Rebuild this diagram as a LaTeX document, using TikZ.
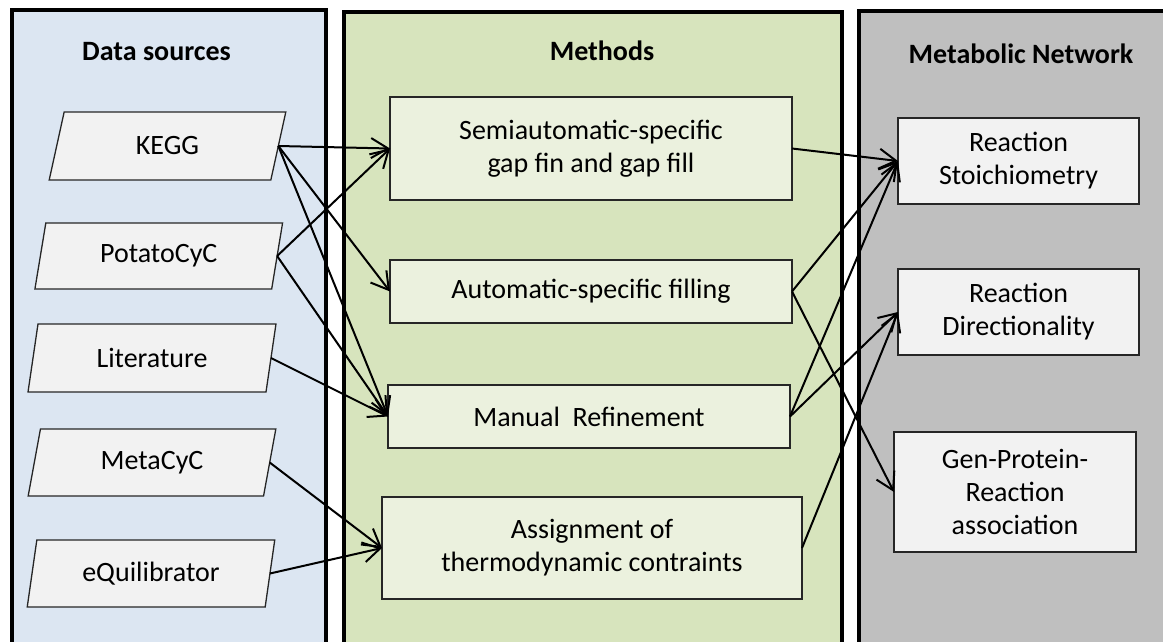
\documentclass[tikz,border=0pt]{standalone}
\usepackage{fontspec}
\setmainfont{Carlito}
\usetikzlibrary{shapes.geometric,arrows.meta}
\definecolor{datafill}{HTML}{DCE6F2}
\definecolor{methfill}{HTML}{D7E4BD}
\definecolor{netfill}{HTML}{BFBFBF}
\definecolor{methboxfill}{HTML}{EBF1DE}
\definecolor{grayboxfill}{HTML}{F2F2F2}
\newcommand{\mybodyfont}{\fontsize{28}{33}\selectfont}
\newcommand{\mytitlefont}{\fontsize{28}{33}\selectfont\bfseries}
\begin{document}
\begin{tikzpicture}[x=1pt,y=-1pt,
  panel/.style={draw=black, line width=4pt},
  srcbox/.style={trapezium, trapezium left angle=76, trapezium right angle=104,
    trapezium stretches=true, draw=black!85, line width=1.3pt, fill=grayboxfill,
    inner sep=0pt, outer sep=0pt, font=\mybodyfont},
  methbox/.style={rectangle, draw=black!85, line width=1.3pt, fill=methboxfill,
    inner sep=0pt, outer sep=0pt, align=center, font=\mybodyfont},
  netbox/.style={rectangle, draw=black!85, line width=1.3pt, fill=grayboxfill,
    inner sep=0pt, outer sep=0pt, align=center, font=\mybodyfont},
  paneltitle/.style={font=\mytitlefont, anchor=base, inner sep=0pt},
  conn/.style={line width=2pt, -{Straight Barb[length=17pt,width=20pt]}}
]
\useasboundingbox (0,0) rectangle (1163,642);
\clip (0,0) rectangle (1163,642);
\fill[white] (0,0) rectangle (1163,642);

% panels
\draw[panel, fill=datafill] (12,10) rectangle (326,690);
\draw[panel, fill=methfill] (344,12) rectangle (842,690);
\draw[panel, fill=netfill] (859,11) rectangle (1220,690);

% titles
\node[paneltitle] (tdata) at (156.5,61) {Data sources};
\node[paneltitle] (tmeth) at (602,61) {Methods};
\node[paneltitle] (tnet) at (1021,64) {Metabolic Network};

% data sources
\node[srcbox, minimum width=237pt, minimum height=68pt] (kegg) at (167.5,146) {KEGG};
\node[srcbox, minimum width=248pt, minimum height=66pt] (potato) at (158.75,256) {PotatoCyC};
\node[srcbox, minimum width=248pt, minimum height=68pt] (lit) at (152,358) {Literature};
\node[srcbox, minimum width=248pt, minimum height=67pt] (meta) at (152,462.5) {MetaCyC};
\node[srcbox, minimum width=248pt, minimum height=67pt] (equi) at (151,573.5) {eQuilibrator};

% methods
\node[methbox, minimum width=402pt, minimum height=103pt] (semi) at (591,148.5) {Semiautomatic-specific\\gap fin and gap fill};
\node[methbox, minimum width=402pt, minimum height=63pt] (auto) at (591,291.5) {Automatic-specific filling};
\node[methbox, minimum width=402pt, minimum height=63pt] (manual) at (589,416.5) {Manual\ \ Refinement};
\node[methbox, minimum width=420pt, minimum height=102pt] (assign) at (592,548) {Assignment of\\thermodynamic contraints};

% metabolic network
\node[netbox, minimum width=241pt, minimum height=86pt] (stoich) at (1018.5,161) {Reaction\\Stoichiometry};
\node[netbox, minimum width=241pt, minimum height=86pt] (dir) at (1018.5,312) {Reaction\\Directionality};
\node[netbox, minimum width=242pt, minimum height=120pt] (gpr) at (1015,492) {Gen-Protein-\\Reaction\\association};

% connectors left
\draw[conn] (kegg.right side) -- (semi.west);
\draw[conn] (kegg.right side) -- (auto.west);
\draw[conn] (kegg.right side) -- (manual.west);
\draw[conn] (potato.right side) -- (semi.west);
\draw[conn] (potato.right side) -- (manual.west);
\draw[conn] (lit.right side) -- (manual.west);
\draw[conn] (meta.right side) -- (assign.west);
\draw[conn] (equi.right side) -- (assign.west);

% connectors right
\draw[conn] (semi.east) -- (stoich.west);
\draw[conn] (auto.east) -- (stoich.west);
\draw[conn] (auto.east) -- (gpr.west);
\draw[conn] (manual.east) -- (stoich.west);
\draw[conn] (manual.east) -- (dir.west);
\draw[conn] (assign.east) -- (dir.west);
\end{tikzpicture}
\end{document}
